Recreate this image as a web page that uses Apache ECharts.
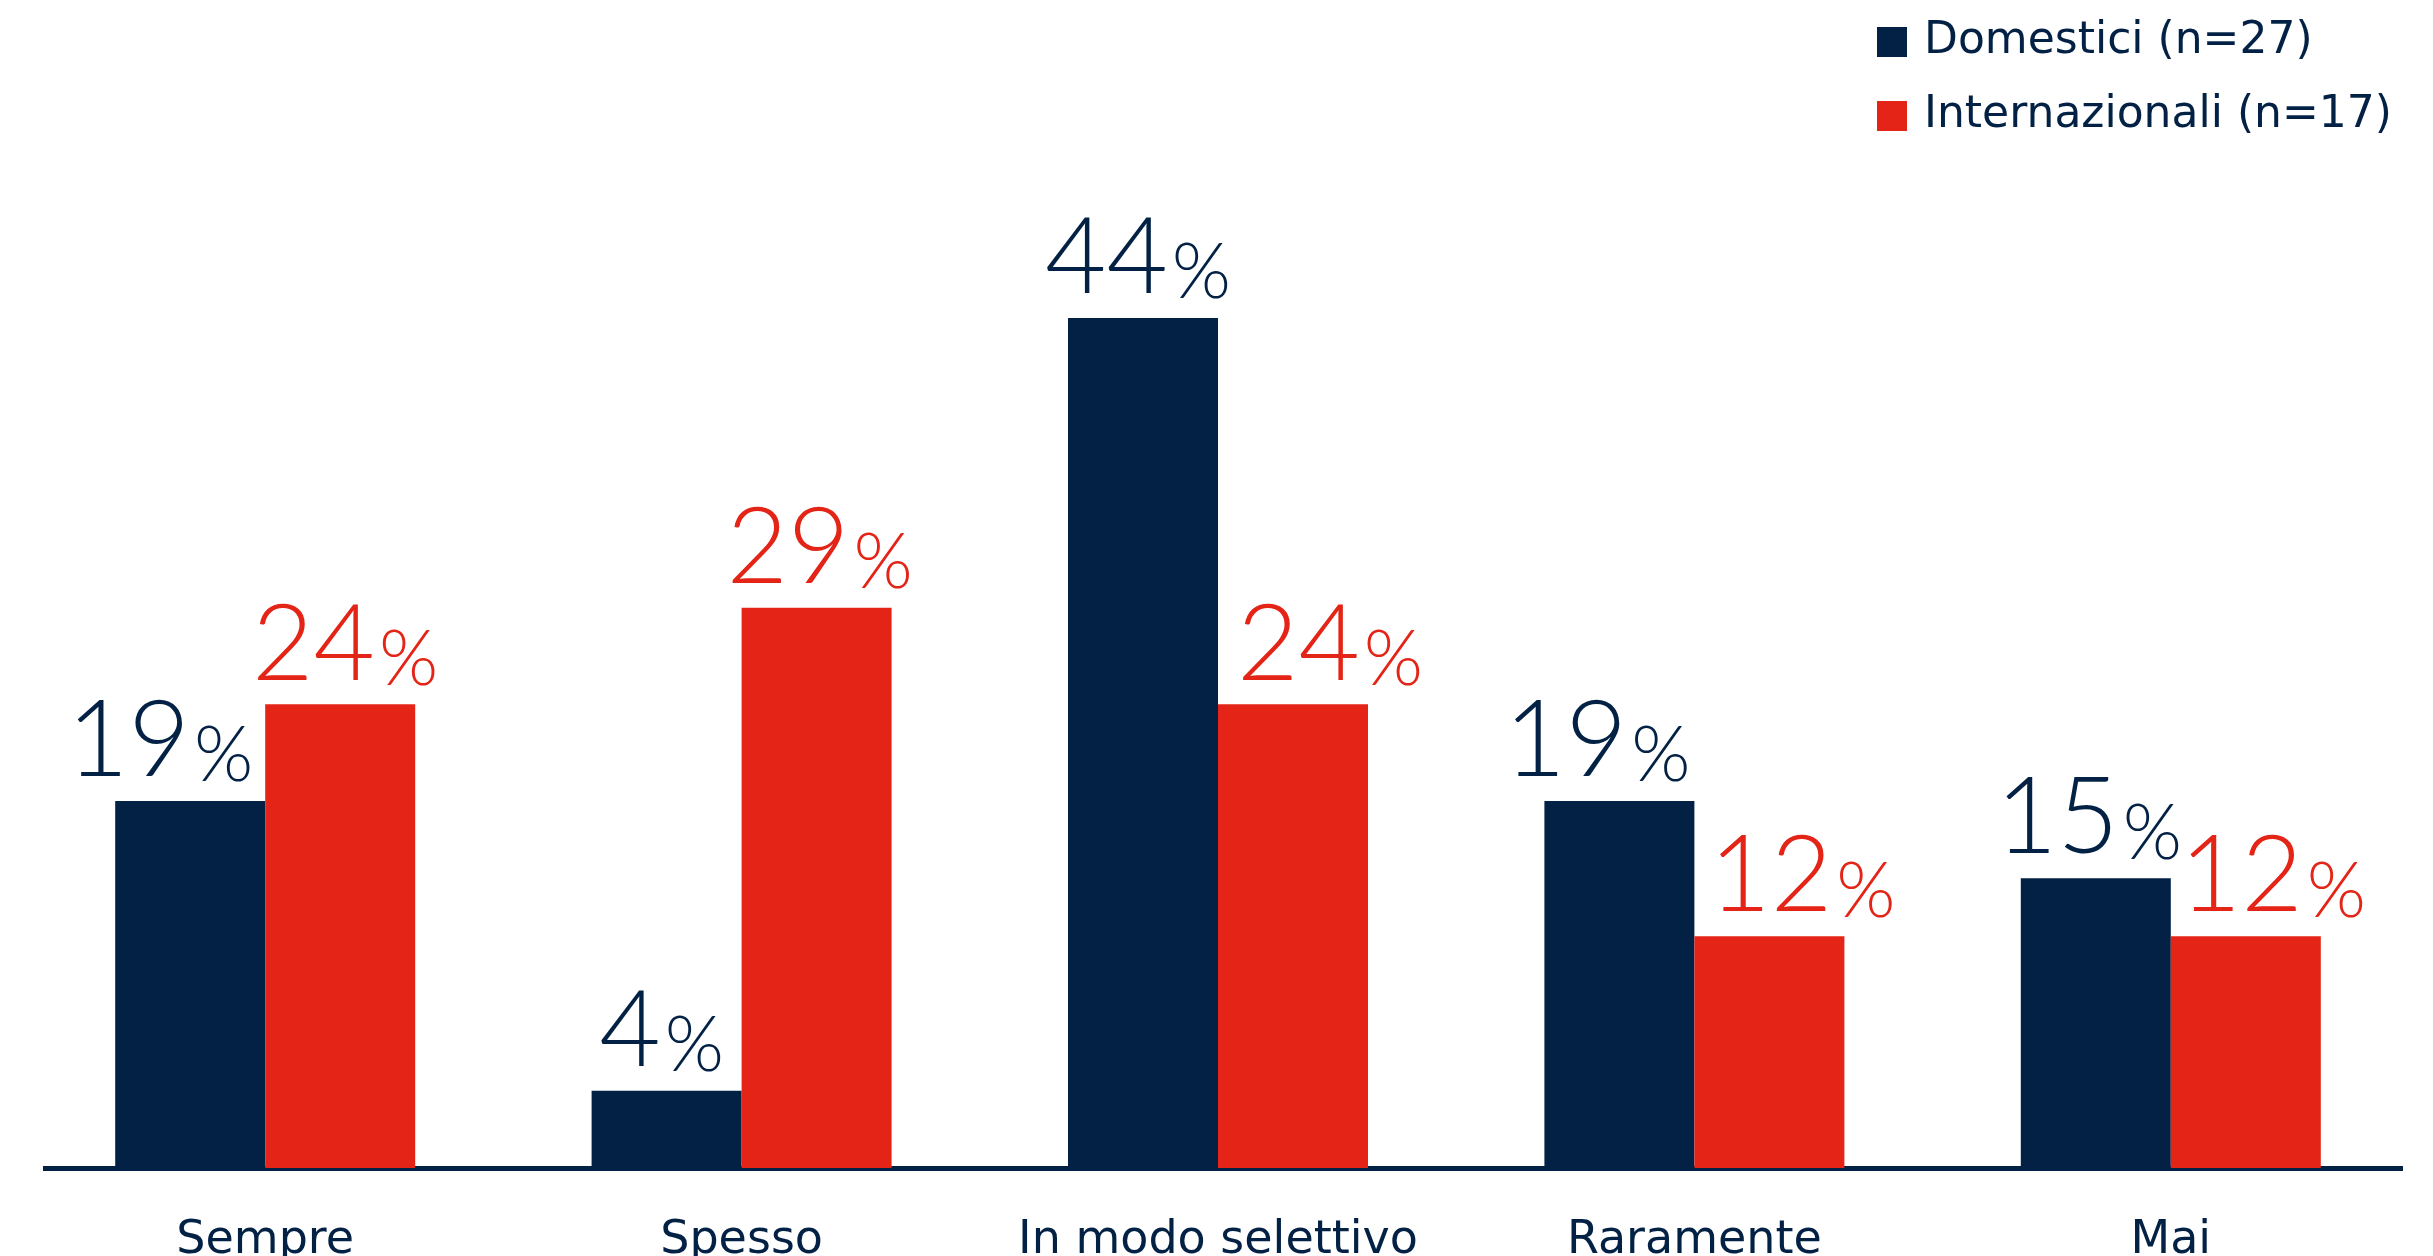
<!DOCTYPE html>
<html>
<head>
<meta charset="utf-8">
<style>
  html, body { margin: 0; padding: 0; background: #ffffff; }
  #chart { width: 2433px; height: 1256px; }
</style>
<script src="https://cdn.jsdelivr.net/npm/echarts@6/dist/echarts.min.js"></script>
</head>
<body>
<div id="chart"></div>
<script>
// Frequency categories on the x axis
const categories = ['Sempre', 'Spesso', 'In modo selettivo', 'Raramente', 'Mai'];

// Share of respondents (%) per group
const seriesNames = ['Domestici (n=27)', 'Internazionali (n=17)'];
const domestici = [19, 4, 44, 19, 15];
const internazionali = [24, 29, 24, 12, 12];

const NAVY = '#022144';
const RED = '#E32416';

// Horizontal nudges for value labels so neighbouring labels do not collide
const labelShiftDom = [-30, -5, -5, -22, -7];
const labelShiftInt = [5, 3, 37, 33, 27];

function valueLabel(color) {
  return {
    show: true,
    position: 'top',
    distance: 6,
    formatter: p => '{n|' + p.value + '}{p|%}',
    rich: {
      n: { fontFamily: 'Lato', fontWeight: 300, fontSize: 106, color: color, verticalAlign: 'bottom', lineHeight: 106 },
      p: { fontFamily: 'Lato', fontWeight: 300, fontSize: 76, color: color, verticalAlign: 'bottom', lineHeight: 106, padding: [0, 0, 0, 4] }
    }
  };
}

function buildData(values, shifts) {
  return values.map((v, i) => ({ value: v, label: { offset: [shifts[i], 0] } }));
}

const chart = echarts.init(document.getElementById('chart'), null, { renderer: 'canvas' });

chart.setOption({
  animation: false,
  backgroundColor: '#ffffff',
  legend: {
    orient: 'vertical',
    left: 1872,
    top: 14,
    itemWidth: 30,
    itemHeight: 30,
    itemGap: 28,
    icon: 'rect',
    textStyle: {
      fontFamily: 'DejaVu Sans',
      fontSize: 44,
      color: NAVY,
      lineHeight: 46,
      padding: [0, 0, 0, 12]
    },
    data: seriesNames
  },
  grid: { left: 27, right: 24, top: 202, bottom: 88, outerBoundsMode: 'none', containLabel: false },
  xAxis: {
    type: 'category',
    data: categories,
    axisLine: { show: false },
    axisTick: { show: false },
    axisLabel: {
      interval: 0,
      margin: 50,
      fontFamily: 'DejaVu Sans',
      fontSize: 46,
      color: NAVY
    }
  },
  yAxis: {
    type: 'value',
    min: 0,
    max: 50,
    show: false,
    splitLine: { show: false }
  },
  graphic: [{
    type: 'rect',
    z: -1,
    shape: { x: 43, y: 1166, width: 2360, height: 5 },
    style: { fill: NAVY }
  }],
  series: [
    {
      name: seriesNames[0],
      type: 'bar',
      barWidth: 150,
      barGap: '0%',
      itemStyle: { color: NAVY },
      label: valueLabel(NAVY),
      data: buildData(domestici, labelShiftDom)
    },
    {
      name: seriesNames[1],
      type: 'bar',
      barWidth: 150,
      barGap: '0%',
      itemStyle: { color: RED },
      label: valueLabel(RED),
      data: buildData(internazionali, labelShiftInt)
    }
  ]
});
</script>
</body>
</html>
